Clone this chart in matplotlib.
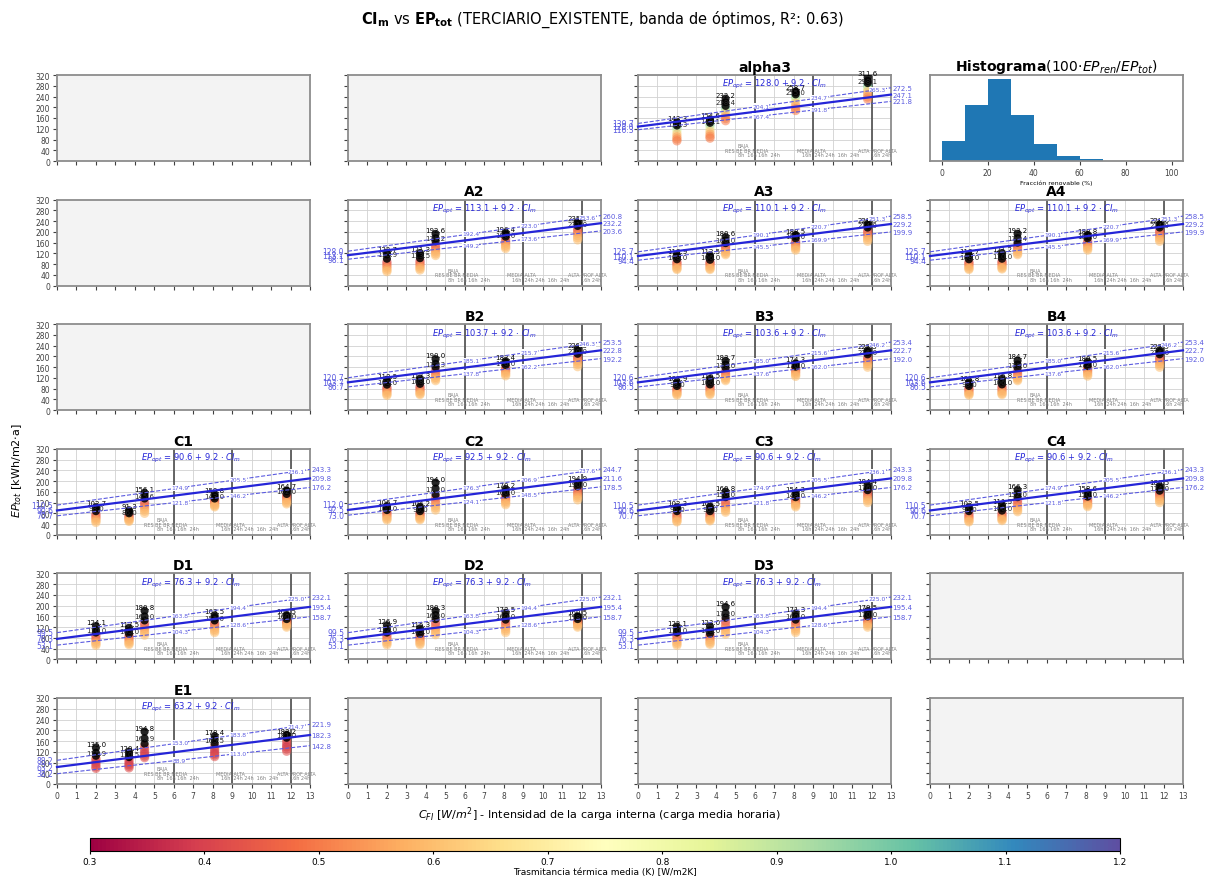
import numpy as np
import matplotlib.pyplot as plt
import matplotlib as mpl

# Carga interna media de cada grupo de casos (W/m2)
ci_x = [2.0, 3.7, 4.5, 8.1, 11.8]

# Distribucion de paneles por fila/columna (None = panel vacio)
layout = [
    [None, None, "alpha3", "hist"],
    [None, "A2", "A3", "A4"],
    [None, "B2", "B3", "B4"],
    ["C1", "C2", "C3", "C4"],
    ["D1", "D2", "D3", None],
    ["E1", None, None, None],
]

slope = 9.2

# Valores de la banda (superior, recta, inferior) en CI=0 y CI=13
band_left = {
    "alpha3": [139.7, 128.0, 116.3],
    "A2": [128.0, 113.1, 98.1],
    "A3": [125.7, 110.1, 94.4],
    "A4": [125.7, 110.1, 94.4],
    "B2": [120.7, 103.7, 86.7],
    "B3": [120.6, 103.6, 86.5],
    "B4": [120.6, 103.6, 86.5],
    "C1": [110.5, 90.6, 70.7],
    "C2": [112.0, 92.5, 73.0],
    "C3": [110.5, 90.6, 70.7],
    "C4": [110.5, 90.6, 70.7],
    "D1": [99.5, 76.3, 53.1],
    "D2": [99.5, 76.3, 53.1],
    "D3": [99.5, 76.3, 53.1],
    "E1": [88.2, 63.2, 38.2],
}
band_right = {
    "alpha3": [272.5, 247.1, 221.8],
    "A2": [260.8, 232.2, 203.6],
    "A3": [258.5, 229.2, 199.9],
    "A4": [258.5, 229.2, 199.9],
    "B2": [253.5, 222.8, 192.2],
    "B3": [253.4, 222.7, 192.0],
    "B4": [253.4, 222.7, 192.0],
    "C1": [243.3, 209.8, 176.2],
    "C2": [244.7, 211.6, 178.5],
    "C3": [243.3, 209.8, 176.2],
    "C4": [243.3, 209.8, 176.2],
    "D1": [232.1, 195.4, 158.7],
    "D2": [232.1, 195.4, 158.7],
    "D3": [232.1, 195.4, 158.7],
    "E1": [221.9, 182.3, 142.8],
}

# Casos de la banda de optimos (puntos negros), por grupo de carga
top_pts = {
    "alpha3": [[143.3, 139.3, 132], [154.6, 149.1, 142], [232.2, 218.4, 205], [258.7, 255.0, 248], [311.6, 298.1, 290]],
    "A2": [[122.7, 115.9, 100], [121.3, 113.5, 102], [192.6, 176.2, 165], [196.4, 190.0, 182], [235.9, 231.0, 222]],
    "A3": [[113.9, 108.0, 98], [112.5, 106.0, 96], [180.6, 168.0, 158], [188.5, 184.0, 176], [229.9, 224.0, 216]],
    "A4": [[113.7, 108.0, 98], [121.2, 110.0, 100], [193.2, 176.4, 160], [188.8, 184.0, 176], [228.6, 224.0, 216]],
    "B2": [[113.5, 105.0, 95], [117.3, 108.0, 98], [190.0, 172.3, 160], [182.4, 176.0, 168], [229.3, 220.0, 210]],
    "B3": [[103.9, 98.0, 90], [116.5, 106.0, 96], [183.7, 170.0, 158], [174.3, 170.0, 162], [222.5, 216.0, 208]],
    "B4": [[103.8, 98.0, 90], [116.8, 106.0, 96], [184.7, 170.0, 158], [180.5, 172.0, 164], [222.9, 216.0, 208]],
    "C1": [[102.7, 98.0, 88], [91.3, 86.0, 80], [156.1, 145.6, 135], [150.8, 143.0, 135], [164.7, 162.0, 152]],
    "C2": [[106.7, 100.0, 92], [104.2, 96.0, 88], [194.0, 172.0, 150], [170.2, 160.0, 150], [194.9, 190.0, 180]],
    "C3": [[102.3, 96.0, 88], [104.5, 96.0, 88], [160.8, 150.0, 140], [154.3, 148.0, 140], [184.4, 176.0, 166]],
    "C4": [[102.5, 96.0, 88], [111.5, 100.0, 90], [166.3, 152.0, 140], [158.6, 150.0, 142], [180.5, 174.0, 164]],
    "D1": [[124.1, 110.0, 100], [117.5, 105.0, 95], [180.8, 160.0, 145], [163.5, 155.0, 145], [164.5, 160.0, 150]],
    "D2": [[126.9, 112.0, 100], [115.3, 105.0, 95], [180.3, 165.0, 150], [173.5, 160.0, 148], [160.5, 158.0, 150]],
    "D3": [[122.1, 110.0, 100], [123.0, 108.0, 96], [194.6, 172.0, 155], [171.3, 160.0, 148], [179.5, 170.0, 160]],
    "E1": [[135.0, 115.9, 105], [120.4, 110.5, 100], [194.8, 169.9, 150], [178.4, 165.5, 150], [183.2, 181.0, 172]],
}

# Resto de casos (coloreados por transmitancia media)
low_pts = {
    "alpha3": [[125, 112, 100, 90, 82, 75], [135, 122, 110, 100, 92, 85], [195, 185, 175, 165, 158, 150],
               [240, 228, 215, 205, 195, 188], [280, 268, 258, 248, 238, 230]],
    "A2": [[88, 80, 72, 65, 58, 52], [92, 84, 77, 70, 64, 58], [150, 140, 132, 125, 118, 112],
           [175, 165, 158, 150, 144, 138], [212, 202, 195, 186, 178, 170]],
    "A3": [[88, 82, 76, 70, 64, 60], [88, 82, 76, 70, 64, 60], [148, 140, 133, 126, 120, 115],
           [165, 158, 150, 144, 138, 132], [205, 196, 188, 180, 172, 165]],
    "A4": [[88, 82, 76, 70, 64, 60], [90, 84, 78, 72, 66, 62], [150, 142, 134, 127, 120, 115],
           [166, 158, 151, 144, 138, 132], [205, 196, 188, 180, 172, 165]],
    "B2": [[85, 78, 72, 66, 60, 55], [88, 80, 74, 68, 62, 58], [148, 138, 130, 122, 116, 110],
           [160, 152, 146, 140, 134, 128], [200, 192, 185, 178, 170, 162]],
    "B3": [[82, 76, 70, 65, 60, 56], [88, 80, 74, 68, 62, 58], [145, 136, 128, 121, 115, 110],
           [156, 150, 144, 138, 132, 126], [196, 188, 181, 174, 167, 160]],
    "B4": [[82, 76, 70, 65, 60, 56], [88, 80, 74, 68, 62, 58], [145, 136, 128, 121, 115, 110],
           [158, 151, 145, 139, 133, 127], [196, 188, 181, 174, 167, 160]],
    "C1": [[78, 70, 64, 58, 52, 46], [74, 68, 62, 58, 54, 50], [122, 112, 104, 96, 88, 80],
           [130, 124, 118, 112, 108, 104], [148, 140, 132, 126, 120, 115]],
    "C2": [[85, 78, 72, 66, 60, 55], [82, 76, 70, 65, 60, 56], [140, 128, 118, 108, 100, 92],
           [145, 138, 130, 124, 118, 112], [170, 160, 152, 145, 138, 130]],
    "C3": [[78, 70, 64, 58, 52, 48], [80, 72, 66, 60, 56, 52], [125, 115, 106, 98, 90, 84],
           [134, 127, 120, 114, 109, 104], [160, 150, 142, 134, 127, 120]],
    "C4": [[78, 70, 64, 58, 52, 48], [82, 74, 68, 62, 57, 53], [128, 118, 108, 100, 92, 86],
           [136, 128, 121, 115, 110, 105], [158, 150, 142, 134, 127, 120]],
    "D1": [[90, 80, 72, 64, 58, 52], [88, 80, 72, 66, 60, 55], [135, 125, 115, 105, 98, 90],
           [135, 128, 120, 112, 106, 100], [145, 140, 135, 130, 125, 120]],
    "D2": [[92, 82, 74, 66, 60, 54], [88, 80, 72, 66, 60, 55], [138, 127, 117, 107, 99, 92],
           [140, 131, 122, 114, 107, 100], [145, 140, 135, 130, 125, 120]],
    "D3": [[90, 80, 72, 64, 58, 52], [90, 82, 74, 67, 61, 56], [142, 130, 120, 110, 101, 94],
           [140, 131, 122, 114, 107, 100], [150, 144, 138, 132, 126, 120]],
    "E1": [[95, 88, 80, 72, 64, 58], [95, 86, 78, 72, 66, 60], [140, 130, 120, 112, 104, 98],
           [140, 130, 122, 114, 108, 102], [165, 155, 145, 138, 130, 122]],
}
low_u = {
    "alpha3": [1.0, 0.85, 0.6, 0.55, 0.52, 0.5],
    "E1": [0.45, 0.42, 0.4, 0.38, 0.4, 0.42],
}
default_u = [0.4, 0.45, 0.5, 0.55, 0.58, 0.6]

# Histograma de fraccion renovable
hist_edges = [0, 10, 20, 30, 40, 50, 60]
hist_counts = [25, 68, 100, 56, 21, 6.6, 2]

# Franjas de intensidad de uso
zone_lines = [6, 9, 12]
cat_row1 = [("BAJA", 5.4)]
cat_row2 = [("RES BE BR MEDIA", 5.6), ("MEDIA ALTA", 8.9), ("ALTA PROF ALTA", 12.3)]
cat_row3 = [("8h  16h 16h  24h", 6.2), ("16h  24h 24h  16h  24h", 9.9), ("16h 24h", 12.5)]

blue = "#2525d8"
lblue = "#5a5ae0"
cmap = plt.get_cmap("Spectral")
norm = mpl.colors.Normalize(vmin=0.3, vmax=1.2)

fig = plt.figure(figsize=(12.05, 8.79), dpi=100)
W, H = 1205.0, 879.0
col_left = [57, 348, 638, 930]
row_top = [76, 200.6, 325.2, 449.8, 574.4, 699]
aw, ah = 253, 86


def style_axes(ax, r, c):
    ax.set_xlim(0, 13)
    ax.set_ylim(0, 320)
    ax.set_xticks(range(0, 14))
    ax.set_yticks(range(0, 321, 40))
    ax.tick_params(labelsize=5.5, length=3, width=0.8, colors="0.25", pad=2)
    if c != 0:
        ax.set_yticklabels([])
    if r != 5:
        ax.set_xticklabels([])
    for s in ax.spines.values():
        s.set_color("0.55")
        s.set_linewidth(1.3)


for r, row in enumerate(layout):
    for c, name in enumerate(row):
        ax = fig.add_axes([col_left[c] / W, 1 - (row_top[r] + ah) / H, aw / W, ah / H])

        if name == "hist":
            ax.bar(hist_edges, hist_counts, width=10, align="edge", color="#1f77b4")
            ax.set_xlim(-5, 105)
            ax.set_ylim(0, 105)
            ax.set_yticks([])
            ax.set_xticks([0, 20, 40, 60, 80, 100])
            ax.tick_params(labelsize=5.5, length=3, colors="0.25", pad=2)
            ax.set_xlabel("Fracción renovable (%)", fontsize=4.5, labelpad=2)
            ax.set_title(r"$\bf{Histograma}$(100$\cdot$$EP_{ren}$/$EP_{tot}$)", fontsize=10, pad=3)
            for s in ax.spines.values():
                s.set_color("0.55")
                s.set_linewidth(1.3)
            continue

        style_axes(ax, r, c)
        if name is None:
            ax.set_facecolor("#f3f3f3")
            continue

        ax.set_title(name, fontsize=10, fontweight="bold", pad=3)
        ax.grid(True, color="0.82", lw=0.6)
        ax.set_axisbelow(True)
        for xv in zone_lines:
            ax.axvline(xv, color="0.35", lw=1.3, zorder=1)

        # textos de franjas
        for txt, xv in cat_row1:
            ax.text(xv, 58, txt, fontsize=3.5, color="0.5", ha="center", va="center")
        for txt, xv in cat_row2:
            ax.text(xv, 40, txt, fontsize=3.5, color="0.5", ha="center", va="center")
        for txt, xv in cat_row3:
            ax.text(xv, 24, txt, fontsize=3.5, color="0.5", ha="center", va="center")

        # nube de casos
        u = low_u.get(name, default_u)
        for i, xv in enumerate(ci_x):
            ys = low_pts[name][i]
            ax.scatter([xv] * len(ys), ys, c=u, cmap=cmap, norm=norm, s=45,
                       alpha=0.55, edgecolors="none", zorder=3)
            tops = top_pts[name][i]
            ax.scatter([xv] * len(tops), tops, c="k", s=34, alpha=0.85,
                       edgecolors="none", zorder=4)
            ax.text(xv, tops[0] + 4, f"{tops[0]:.1f}", fontsize=5, ha="center",
                    va="bottom", color="k", zorder=5)
            ax.text(xv, tops[1], f"{tops[1]:.1f}", fontsize=5, ha="center",
                    va="center", color="0.15", zorder=5)

        # recta y banda
        lv, rv = band_left[name], band_right[name]
        for k in range(3):
            if k == 1:
                ax.plot([0, 13], [lv[k], rv[k]], color=blue, lw=1.6, zorder=6, clip_on=False)
            else:
                ax.plot([0, 13], [lv[k], rv[k]], color=lblue, lw=0.8, ls="--", zorder=6)
                xs = [6.3, 9.3, 12.3] if k == 0 else [6.3, 9.3]
                for xv in xs:
                    yv = lv[k] + (rv[k] - lv[k]) * xv / 13
                    ax.text(xv, yv, f"{yv:.1f}", fontsize=4.3, color=lblue, ha="center",
                            va="center", zorder=7,
                            bbox=dict(boxstyle="square,pad=0.05", fc="white", ec="none"))
            ax.text(13.08, rv[k], f"{rv[k]:.1f}", fontsize=5, color=lblue, ha="left",
                    va="center", clip_on=False)
            ax.text(-0.2, lv[k], f"{lv[k]:.1f}", fontsize=5.5, color=lblue, ha="right",
                    va="center", clip_on=False)

        ax.text(4.3, 287, rf"$EP_{{opt}}$ = {lv[1]:.1f} + {slope:.1f} $\cdot$ $CI_m$",
                fontsize=6, color=blue, ha="left", va="center", zorder=7)

fig.text(0.5, 0.977,
         r"$\mathbf{CI_m}$ vs $\mathbf{EP_{tot}}$ (TERCIARIO_EXISTENTE, banda de óptimos, R²: 0.63)",
         ha="center", va="center", fontsize=10.5)
fig.text(0.498, 0.073,
         r"$C_{FI}$ [$W/m^2$] - Intensidad de la carga interna (carga media horaria)",
         ha="center", va="center", fontsize=8)
fig.text(0.014, 0.465, r"$EP_{tot}$ [kWh/m2$\cdot$a]", rotation=90,
         ha="center", va="center", fontsize=8)

cax = fig.add_axes([90 / W, 1 - 852 / H, 1030 / W, 13 / H])
sm = mpl.cm.ScalarMappable(norm=norm, cmap=cmap)
cb = fig.colorbar(sm, cax=cax, orientation="horizontal")
cb.set_ticks(np.arange(0.3, 1.21, 0.1))
cb.ax.tick_params(labelsize=6.5, length=2.5, pad=1.5)
cb.set_label("Trasmitancia térmica media (K) [W/m2K]", fontsize=6.5, labelpad=1)

fig.savefig("out.png", dpi=100)
